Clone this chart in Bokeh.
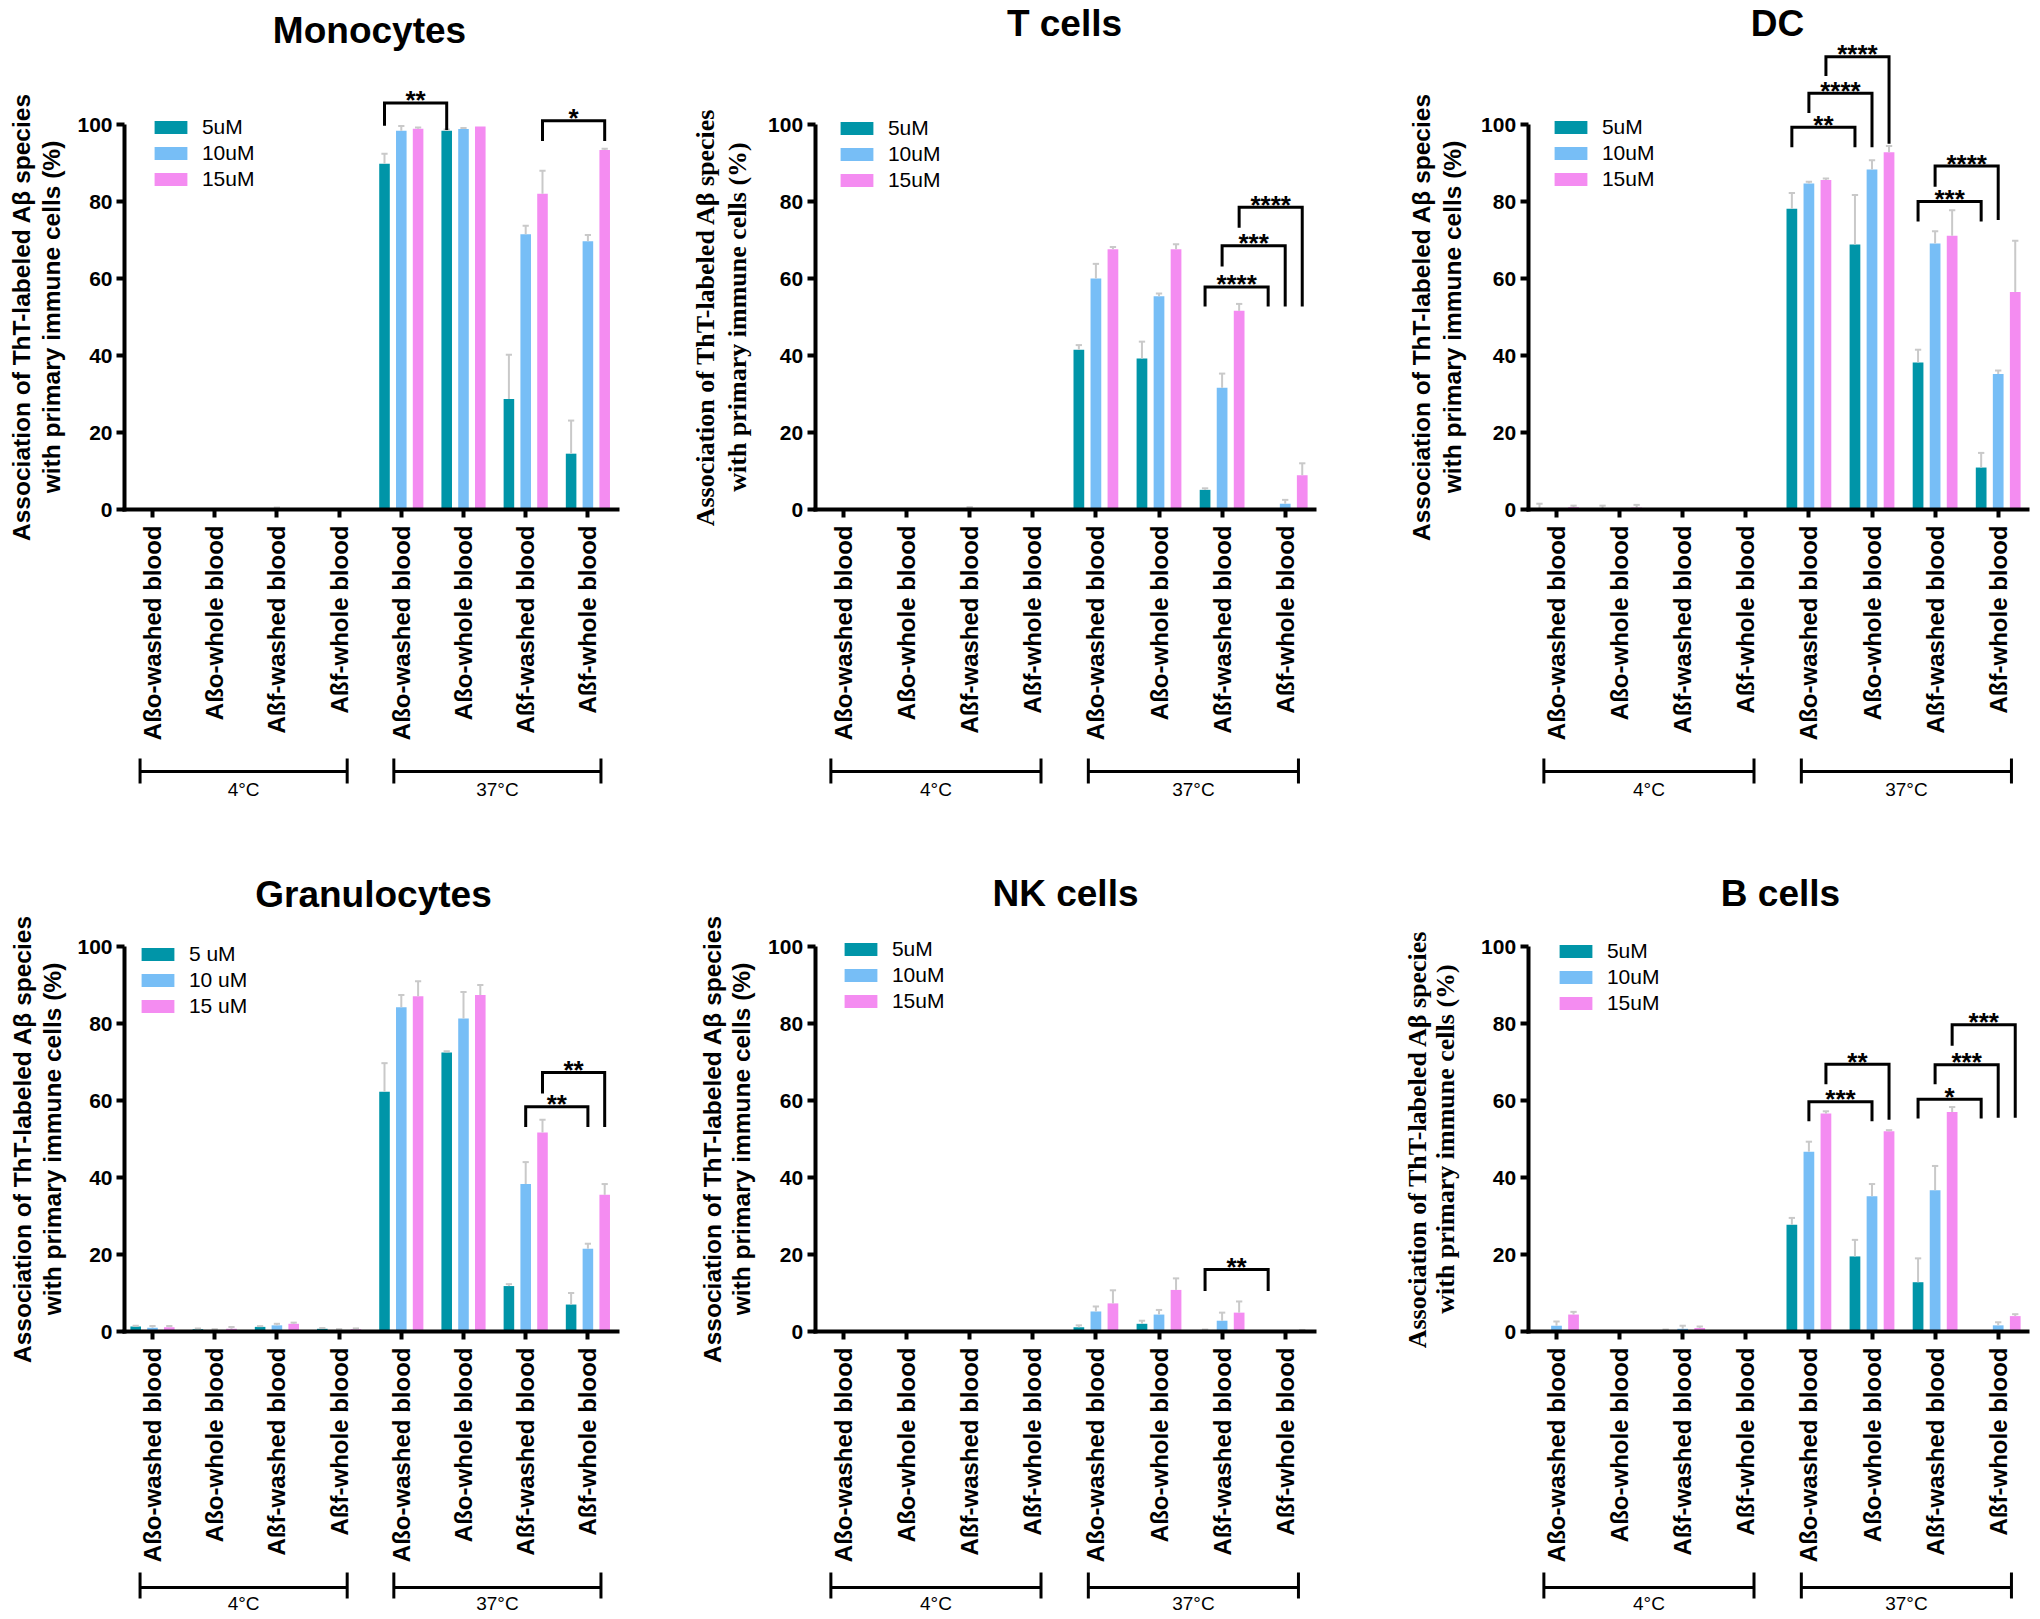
import numpy as np
from bokeh.plotting import figure
from bokeh.models import (Range1d, LinearAxis, FixedTicker, Label, Legend,
                          LegendItem, ColumnDataSource)
from bokeh.layouts import gridplot
from bokeh.embed import file_html
from bokeh.resources import INLINE
from bokeh.core.properties import value

# ---------------------------------------------------------------- data
CATEGORIES = ["Aßo-washed blood", "Aßo-whole blood", "Aßf-washed blood", "Aßf-whole blood",
              "Aßo-washed blood", "Aßo-whole blood", "Aßf-washed blood", "Aßf-whole blood"]
TEMP_GROUPS = ["4°C", "37°C"]
SERIES = ["5uM", "10uM", "15uM"]
SERIES_GRAN = ["5 uM", "10 uM", "15 uM"]
Y_TICKS = [0, 20, 40, 60, 80, 100]
YLABEL_1 = "Association of ThT-labeled Aβ species"
YLABEL_2 = "with primary immune cells (%)"
TITLES = ["Monocytes", "T cells", "DC", "Granulocytes", "NK cells", "B cells"]

MONO_5 = [0.1, 0.1, 0.2, 0.1, 89.8, 98.4, 28.7, 14.5]
MONO_5_ERR = [0, 0, 0, 0, 2.6, 0.3, 11.5, 8.6]
MONO_10 = [0.1, 0.1, 0.3, 0.1, 98.4, 98.8, 71.5, 69.7]
MONO_10_ERR = [0, 0, 0.2, 0, 1.2, 0.3, 2.2, 1.6]
MONO_15 = [0.1, 0.1, 0.2, 0.1, 98.9, 99.5, 82.0, 93.4]
MONO_15_ERR = [0, 0, 0, 0, 0.3, 0, 6.0, 0.3]
MONO_SIG = [(4, 0, 5, 0, 105.6, 99.7, 98.6, "**"),
            (6, 2, 7, 2, 101.0, 95.7, 95.7, "*")]

TC_5 = [0.1, 0.1, 0.2, 0.1, 41.5, 39.2, 5.1, 0.2]
TC_5_ERR = [0, 0, 0, 0, 1.2, 4.4, 0.4, 0]
TC_10 = [0.1, 0.1, 0.3, 0.1, 60.0, 55.4, 31.6, 1.5]
TC_10_ERR = [0, 0, 0.3, 0, 3.8, 0.7, 3.7, 1.0]
TC_15 = [0.1, 0.1, 0.2, 0.1, 67.6, 67.6, 51.6, 8.9]
TC_15_ERR = [0, 0, 0, 0, 0.6, 1.3, 1.8, 3.1]
TC_SIG = [(6, 0, 7, 0, 57.8, 52.7, 52.7, "****"),
          (6, 1, 7, 1, 68.5, 63.1, 52.7, "***"),
          (6, 2, 7, 2, 78.5, 73.2, 52.7, "****")]

DC_5 = [0.1, 0.2, 0.2, 0.0, 78.1, 68.8, 38.2, 10.9]
DC_5_ERR = [1.4, 0.8, 0, 0, 4.1, 12.9, 3.3, 3.8]
DC_10 = [0.1, 0.0, 0.2, 0.1, 84.7, 88.3, 69.1, 35.2]
DC_10_ERR = [0, 0, 0, 0, 0.4, 2.4, 3.2, 0.9]
DC_15 = [0.6, 0.5, 0.1, 0.0, 85.6, 92.8, 71.1, 56.5]
DC_15_ERR = [0.4, 0.7, 0, 0, 0.4, 1.6, 6.6, 13.3]
DC_SIG = [(4, 0, 5, 0, 99.3, 94.1, 94.1, "**"),
          (4, 1, 5, 1, 108.1, 103.0, 94.1, "****"),
          (4, 2, 5, 2, 117.6, 112.6, 95.0, "****"),
          (6, 0, 7, 0, 80.0, 74.8, 74.8, "***"),
          (6, 1, 7, 1, 89.2, 83.8, 75.2, "****")]

GR_5 = [1.3, 0.6, 1.2, 0.7, 62.3, 72.5, 11.8, 7.0]
GR_5_ERR = [0.2, 0.2, 0.2, 0.2, 7.4, 0.3, 0.5, 3.0]
GR_10 = [1.0, 0.3, 1.6, 0.4, 84.2, 81.3, 38.3, 21.5]
GR_10_ERR = [0.4, 0.3, 0.4, 0.2, 3.2, 6.9, 5.7, 1.3]
GR_15 = [1.1, 0.7, 2.0, 0.6, 87.1, 87.4, 51.7, 35.5]
GR_15_ERR = [0.3, 0.5, 0.3, 0.2, 3.9, 2.6, 3.3, 2.8]
GR_SIG = [(6, 1, 7, 1, 58.4, 53.1, 53.1, "**"),
          (6, 2, 7, 2, 67.3, 61.8, 53.1, "**")]

NK_5 = [0.1, 0.1, 0.1, 0.1, 1.1, 2.0, 0.4, 0.1]
NK_5_ERR = [0, 0, 0, 0, 0.5, 0.8, 0.1, 0]
NK_10 = [0.1, 0.1, 0.1, 0.1, 5.2, 4.4, 2.8, 0.1]
NK_10_ERR = [0, 0, 0, 0, 1.3, 1.2, 2.1, 0]
NK_15 = [0.1, 0.1, 0.2, 0.1, 7.3, 10.8, 4.9, 0.3]
NK_15_ERR = [0, 0, 0, 0, 3.4, 3.0, 2.9, 0.1]
NK_SIG = [(6, 0, 7, 0, 16.1, 10.5, 10.5, "**")]

BC_5 = [0.1, 0.0, 0.2, 0.0, 27.7, 19.5, 12.8, 0.2]
BC_5_ERR = [0, 0, 0.3, 0, 1.8, 4.3, 6.2, 0]
BC_10 = [1.5, 0.0, 0.7, 0.0, 46.7, 35.1, 36.7, 1.6]
BC_10_ERR = [1.1, 0, 0.8, 0, 2.6, 3.2, 6.3, 0.8]
BC_15 = [4.4, 0.0, 0.9, 0.0, 56.6, 52.0, 57.0, 4.0]
BC_15_ERR = [0.7, 0, 0.4, 0, 0.6, 0.3, 1.3, 0.5]
BC_SIG = [(4, 1, 5, 1, 59.7, 54.6, 54.6, "***"),
          (4, 2, 5, 2, 69.4, 64.2, 55.0, "**"),
          (6, 0, 7, 0, 60.3, 55.3, 55.3, "*"),
          (6, 1, 7, 1, 69.3, 64.2, 55.5, "***"),
          (6, 2, 7, 2, 79.7, 74.2, 55.5, "***")]

# ---------------------------------------------------------------- style / layout
COLORS = ["#0095A8", "#77BEF6", "#F48CF1"]
ERR_COLOR = "#C9C9C9"
SANS = "Liberation Sans"
SERIF = "Liberation Serif"

PW = 680
ROW_TOP = [0, 809]
ROW_H = [809, 810]
Y100_PX = [124, 946]
Y0_PX = [509, 1331]
CAT0_PX = [152, 843, 1556]
SPACING_PX = [62.2, 63.1, 63.1]
OFFSETS = [-0.27, 0.0, 0.27]
BAR_W = 0.17
CAP = 0.05
YAXIS_X = -0.45
GROUP_SPANS = [(-0.2, 3.13), (3.88, 7.21)]
GROUP_LINE_PX = [771, 1587]
GROUP_LEG_PX = [(758, 783), (1572, 1598)]
GROUP_TEXT_PX = [789, 1603]

PANELS = [
    dict(col=0, row=0, title=TITLES[0], title_px=(369, 30), yl_px=(21, 51), serif=False,
         leg_px=(154, 127), labels=SERIES, vals=[MONO_5, MONO_10, MONO_15],
         errs=[MONO_5_ERR, MONO_10_ERR, MONO_15_ERR], sigs=MONO_SIG),
    dict(col=1, row=0, title=TITLES[1], title_px=(1064, 23), yl_px=(705, 737), serif=True,
         leg_px=(840, 128), labels=SERIES, vals=[TC_5, TC_10, TC_15],
         errs=[TC_5_ERR, TC_10_ERR, TC_15_ERR], sigs=TC_SIG),
    dict(col=2, row=0, title=TITLES[2], title_px=(1777, 23), yl_px=(1421, 1452), serif=False,
         leg_px=(1554, 127), labels=SERIES, vals=[DC_5, DC_10, DC_15],
         errs=[DC_5_ERR, DC_10_ERR, DC_15_ERR], sigs=DC_SIG),
    dict(col=0, row=1, title=TITLES[3], title_px=(373, 894), yl_px=(22, 52), serif=False,
         leg_px=(141, 954), labels=SERIES_GRAN, vals=[GR_5, GR_10, GR_15],
         errs=[GR_5_ERR, GR_10_ERR, GR_15_ERR], sigs=GR_SIG),
    dict(col=1, row=1, title=TITLES[4], title_px=(1065, 893), yl_px=(712, 741), serif=False,
         leg_px=(844, 949), labels=SERIES, vals=[NK_5, NK_10, NK_15],
         errs=[NK_5_ERR, NK_10_ERR, NK_15_ERR], sigs=NK_SIG),
    dict(col=2, row=1, title=TITLES[5], title_px=(1780, 893), yl_px=(1417, 1445), serif=True,
         leg_px=(1559, 951), labels=SERIES, vals=[BC_5, BC_10, BC_15],
         errs=[BC_5_ERR, BC_10_ERR, BC_15_ERR], sigs=BC_SIG),
]


def make_panel(cfg):
    col, row = cfg["col"], cfg["row"]
    L = col * PW
    T = ROW_TOP[row]
    H = ROW_H[row]
    c0 = CAT0_PX[col]
    sp = SPACING_PX[col]
    ppu = (Y0_PX[row] - Y100_PX[row]) / 100.0

    def fx(px):
        return (px - c0) / sp

    def fy(py):
        return (Y0_PX[row] - py) / ppu

    p = figure(width=PW, height=H, x_range=Range1d(fx(L), fx(L + PW)),
               y_range=Range1d(fy(T + H), fy(T)), output_backend="svg",
               toolbar_location=None, x_axis_type=None, y_axis_type=None,
               min_border=0, min_border_left=0, min_border_right=0,
               min_border_top=0, min_border_bottom=0, outline_line_color=None)
    p.background_fill_color = "white"

    n = len(CATEGORIES)
    renderers = []
    for s in range(3):
        xs = [i + OFFSETS[s] for i in range(n)]
        src = ColumnDataSource(dict(x=xs, top=cfg["vals"][s]))
        r = p.vbar(x="x", top="top", bottom=0, width=BAR_W, source=src,
                   fill_color=COLORS[s], line_color=None)
        renderers.append(r)
        ex, eb, et = [], [], []
        for x, v, e in zip(xs, cfg["vals"][s], cfg["errs"][s]):
            if e > 0:
                ex.append(x)
                eb.append(v)
                et.append(v + e)
        if ex:
            p.segment(x0=ex, y0=eb, x1=ex, y1=et, line_color=ERR_COLOR, line_width=2)
            p.segment(x0=[x - CAP for x in ex], y0=et, x1=[x + CAP for x in ex], y1=et,
                      line_color=ERR_COLOR, line_width=2)

    # axes
    yax = LinearAxis(fixed_location=YAXIS_X, bounds=(-0.55, 100),
                     ticker=FixedTicker(ticks=Y_TICKS))
    yax.axis_line_width = 4
    yax.major_tick_line_width = 4
    yax.major_tick_out = 8
    yax.major_tick_in = 0
    yax.minor_tick_out = 0
    yax.minor_tick_in = 0
    yax.major_label_standoff = 4
    yax.major_label_text_font = SANS
    yax.major_label_text_font_style = "bold"
    yax.major_label_text_font_size = "21px"
    yax.major_label_text_color = "black"
    p.add_layout(yax, "left")

    xax = LinearAxis(fixed_location=0, bounds=(YAXIS_X - 0.03, 7.5),
                     ticker=FixedTicker(ticks=list(range(n))),
                     major_label_overrides={i: CATEGORIES[i] for i in range(n)})
    xax.axis_line_width = 4
    xax.major_tick_line_width = 4
    xax.major_tick_out = 8
    xax.major_tick_in = 0
    xax.minor_tick_out = 0
    xax.minor_tick_in = 0
    xax.major_label_orientation = np.pi / 2
    xax.major_label_standoff = 8
    xax.major_label_text_font = SANS
    xax.major_label_text_font_style = "bold"
    xax.major_label_text_font_size = "24px"
    xax.major_label_text_color = "black"
    p.add_layout(xax, "below")

    # title
    tx, ty = cfg["title_px"]
    p.add_layout(Label(x=fx(tx), y=fy(ty), text=cfg["title"], text_font=SANS,
                       text_font_style="bold", text_font_size="37px", text_color="black",
                       text_align="center", text_baseline="middle"))

    # y label (two lines)
    yl_font = SERIF if cfg["serif"] else SANS
    yl_size = "26px" if cfg["serif"] else "24.5px"
    for txt, lx in zip([YLABEL_1, YLABEL_2], cfg["yl_px"]):
        p.add_layout(Label(x=fx(lx), y=50, text=txt, text_font=yl_font,
                           text_font_style="bold", text_font_size=yl_size,
                           text_color="black",
                           text_align="center", text_baseline="middle",
                           angle=np.pi / 2, angle_units="rad"))

    # temperature groups
    gy = fy(GROUP_LINE_PX[row])
    g0, g1 = fy(GROUP_LEG_PX[row][0]), fy(GROUP_LEG_PX[row][1])
    gxs, gys = [], []
    for (a, b) in GROUP_SPANS:
        gxs += [[a, b], [a, a], [b, b]]
        gys += [[gy, gy], [g0, g1], [g0, g1]]
    p.multi_line(xs=gxs, ys=gys, line_color="black", line_width=3)
    p.text(x=[(a + b) / 2 for a, b in GROUP_SPANS], y=[fy(GROUP_TEXT_PX[row])] * 2,
           text=TEMP_GROUPS, text_font=value(SANS), text_font_size="19px",
           text_align="center", text_baseline="middle", text_color="black")

    # significance brackets
    sxs, sys_, stx, sty, stt = [], [], [], [], []
    for (c1, s1, c2, s2, top, lb, rb, lab) in cfg["sigs"]:
        xl = c1 + OFFSETS[s1]
        xr = c2 + OFFSETS[s2]
        sxs.append([xl, xl, xr, xr])
        sys_.append([lb, top, top, rb])
        stx.append((xl + xr) / 2)
        sty.append(top + 2.5 / ppu)
        stt.append(lab)
    if sxs:
        p.multi_line(xs=sxs, ys=sys_, line_color="black", line_width=3,
                     line_join="miter")
        p.text(x=stx, y=sty, text=stt, text_font=value(SANS), text_font_style="bold",
               text_font_size="26px", text_align="center", text_baseline="middle",
               text_color="black")

    # legend
    glyph_w, glyph_h, row_h, spacing = 41, 16, 24, 2
    sx, sy = cfg["leg_px"]
    leg_h = 3 * row_h + 2 * spacing
    top_fig = sy - row_h / 2 - T
    loc = (sx - 0.1 * glyph_w - L, H - top_fig - leg_h)
    items = [LegendItem(label=lab, renderers=[r]) for lab, r in zip(cfg["labels"], renderers)]
    legend = Legend(items=items, location=loc, glyph_width=glyph_w, glyph_height=glyph_h,
                    label_height=row_h, spacing=spacing, label_standoff=11, padding=0,
                    margin=0, border_line_color=None, background_fill_alpha=0,
                    label_text_font=SANS, label_text_font_size="21px",
                    label_text_color="black")
    p.add_layout(legend)
    return p


figs = [make_panel(cfg) for cfg in PANELS]
layout = gridplot([figs[0:3], figs[3:6]], toolbar_location=None)

open("out.html", "w").write(file_html(layout, INLINE))
